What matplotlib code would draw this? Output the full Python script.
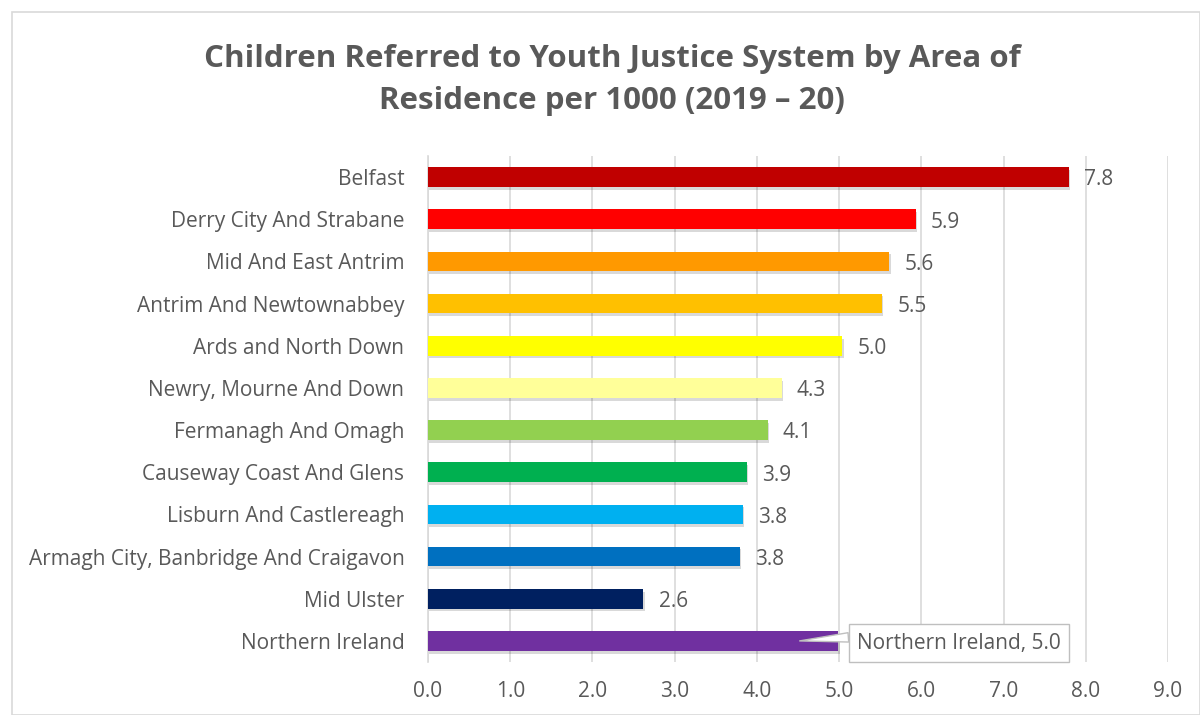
import matplotlib
matplotlib.use("Agg")
import matplotlib.pyplot as plt
from matplotlib import font_manager
from matplotlib.patches import Rectangle
import matplotlib.patheffects as pe

areas = [
    "Belfast",
    "Derry City And Strabane",
    "Mid And East Antrim",
    "Antrim And Newtownabbey",
    "Ards and North Down",
    "Newry, Mourne And Down",
    "Fermanagh And Omagh",
    "Causeway Coast And Glens",
    "Lisburn And Castlereagh",
    "Armagh City, Banbridge And Craigavon",
    "Mid Ulster",
    "Northern Ireland",
]
rates = [7.79, 5.93, 5.61, 5.52, 5.04, 4.30, 4.13, 3.88, 3.83, 3.79, 2.62, 4.99]
colors = [
    "#C00000", "#FF0000", "#FF9900", "#FFC000", "#FFFF00", "#FFFF99",
    "#92D050", "#00B050", "#00B0F0", "#0070C0", "#002060", "#7030A0",
]
x_ticks = [0, 1, 2, 3, 4, 5, 6, 7, 8, 9]

installed = {f.name for f in font_manager.fontManager.ttflist}
body_font = "Open Sans" if "Open Sans" in installed else "DejaVu Sans"
title_font = body_font

grey = "#595959"
W, H = 1200, 715
fig = plt.figure(figsize=(W / 100, H / 100), dpi=100)

# Chart frame
fig.patches.append(Rectangle((12 / W, 0), (W - 12) / W, (H - 12) / H,
                             transform=fig.transFigure, fill=False,
                             edgecolor="#d9d9d9", linewidth=1.2))

ax = fig.add_axes([428 / W, (H - 662) / H, (1168 - 428) / W, (662 - 156) / H])
ypos = list(range(len(areas)))
bars = ax.barh(ypos, rates, height=0.47, color=colors, zorder=3)
for b in bars:
    b.set_path_effects([pe.SimplePatchShadow(offset=(1.0, -2.0), alpha=0.15,
                                             shadow_rgbFace="black"), pe.Normal()])

ax.set_ylim(len(areas) - 0.5, -0.5)
ax.set_xlim(0, 9)
ax.set_xticks(x_ticks)
ax.set_xticklabels([f"{t:.1f}" for t in x_ticks], fontsize=15, color=grey,
                   family=body_font)
ax.set_yticks(ypos)
ax.set_yticklabels(areas, fontsize=15, color=grey, family=body_font)
ax.tick_params(axis="x", length=0, pad=14)
ax.tick_params(axis="y", length=0, pad=17)
ax.grid(axis="x", color="#d9d9d9", linewidth=1.2, zorder=0)
for s in ["top", "right", "bottom"]:
    ax.spines[s].set_visible(False)
ax.spines["left"].set_color("#d9d9d9")
ax.spines["left"].set_linewidth(1.2)

# Value labels
for i, v in enumerate(rates[:-1]):
    ax.annotate(f"{v:.1f}", xy=(v, i), xytext=(11, -2), textcoords="offset points",
                va="center", ha="left", fontsize=15, color=grey, family=body_font)

# Callout for the Northern Ireland bar
ni = len(areas) - 1
ax.annotate(f"{areas[ni]}, {rates[ni]:.1f}", xy=(rates[ni] - 0.47, ni),
            xytext=(5.22, ni + 0.05), textcoords="data", va="center", ha="left",
            fontsize=15, color=grey, family=body_font, zorder=5,
            bbox=dict(boxstyle="square,pad=0.4", fc="white", ec="#bfbfbf", lw=1),
            arrowprops=dict(arrowstyle="wedge,tail_width=0.45", fc="white",
                            ec="#bfbfbf", lw=1, shrinkA=0, shrinkB=0,
                            relpos=(0, 0.8)))

fig.text(612 / W, 1 - 80 / H,
         "Children Referred to Youth Justice System by Area of\nResidence per 1000 (2019 \u2013 20)",
         ha="center", va="center", fontsize=22.5, fontweight="bold", color=grey,
         family=title_font, linespacing=1.5)

fig.savefig("out.png", dpi=100)
